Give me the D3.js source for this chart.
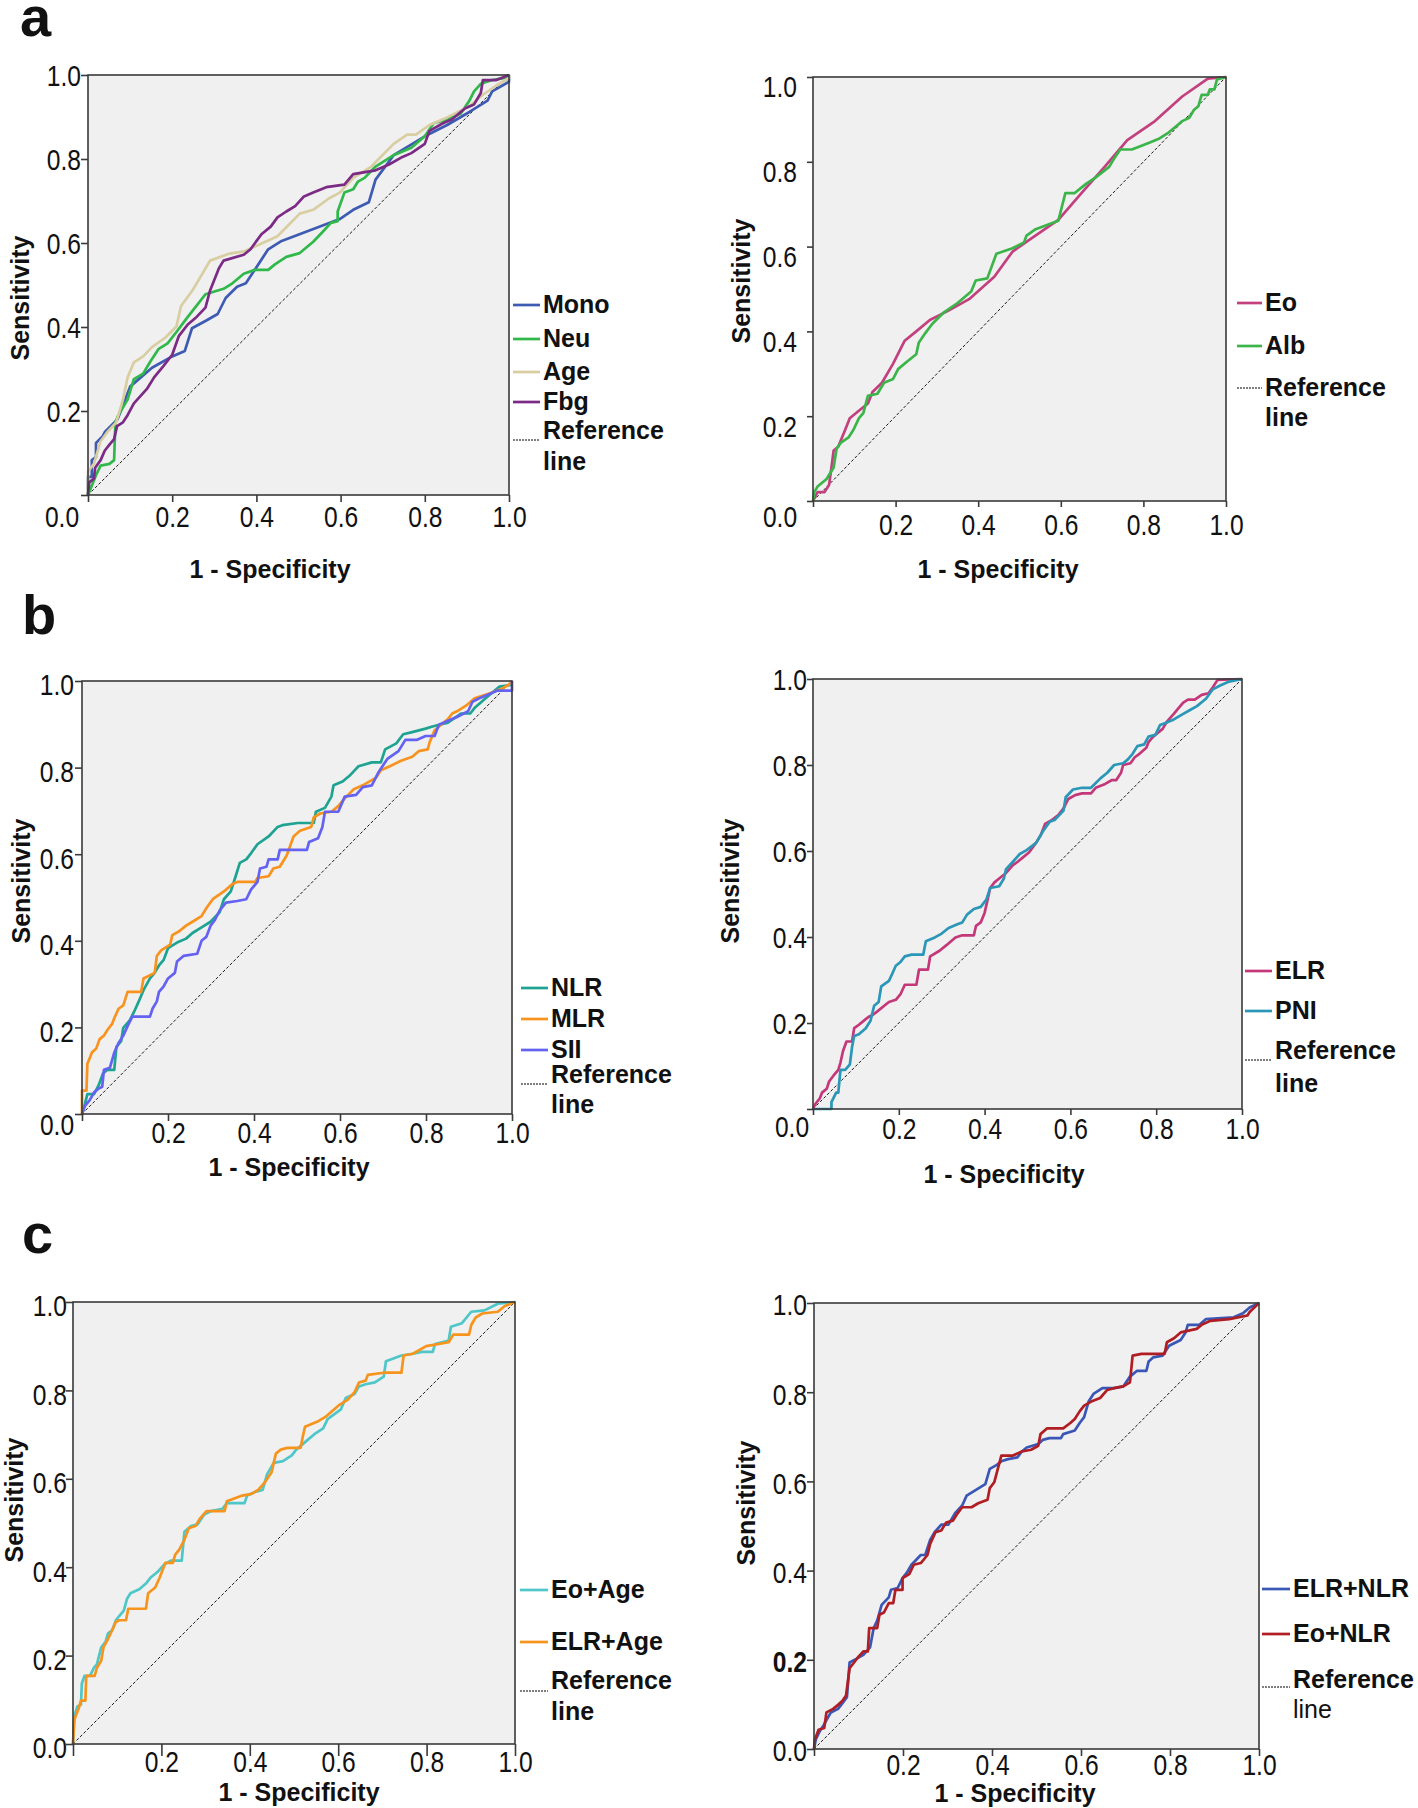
<!DOCTYPE html>
<html>
<head>
<meta charset="utf-8">
<script src="https://cdn.jsdelivr.net/npm/d3@7"></script>
<style>
  body { margin: 0; background: #fff; }
  svg text { fill: #111; }
  .tick-label { font-family: "Liberation Sans", Arial, sans-serif; font-size: 30px; }
  .title { font-family: "Liberation Sans", Arial, sans-serif; font-weight: bold; font-size: 25px; }
  .letter { font-family: "Liberation Sans", Arial, sans-serif; font-weight: bold; font-size: 56px; }
</style>
</head>
<body>
<svg id="chart" width="1418" height="1808"></svg>
<script>
// ROC points: [1 - specificity, sensitivity]
const tickValues = [0, 0.2, 0.4, 0.6, 0.8, 1.0];

// panel a, left
const monoRoc = [[0,0],[0,0.043],[0.009,0.043],[0.009,0.083],[0.019,0.09],[0.019,0.124],[0.025,0.13],[0.035,0.14],[0.04,0.15],[0.07,0.18],[0.1,0.258],[0.152,0.303],[0.2,0.33],[0.23,0.343],[0.247,0.397],[0.28,0.415],[0.308,0.431],[0.327,0.469],[0.354,0.496],[0.375,0.504],[0.428,0.585],[0.46,0.605],[0.598,0.657],[0.63,0.679],[0.667,0.697],[0.683,0.751],[0.726,0.809],[0.8,0.854],[0.853,0.881],[0.906,0.912],[0.949,0.939],[0.96,0.961],[1,0.984],[1,1]];
const neuRoc = [[0,0],[0.0085,0.021],[0.019,0.047],[0.03,0.07],[0.051,0.074],[0.062,0.083],[0.065,0.173],[0.072,0.19],[0.094,0.227],[0.109,0.276],[0.131,0.289],[0.147,0.316],[0.168,0.348],[0.189,0.361],[0.21,0.388],[0.237,0.424],[0.258,0.451],[0.279,0.478],[0.322,0.491],[0.343,0.504],[0.37,0.527],[0.396,0.536],[0.428,0.536],[0.444,0.549],[0.471,0.567],[0.503,0.576],[0.535,0.603],[0.556,0.625],[0.577,0.648],[0.593,0.652],[0.593,0.675],[0.609,0.72],[0.63,0.728],[0.641,0.746],[0.657,0.755],[0.683,0.782],[0.726,0.809],[0.768,0.827],[0.8,0.854],[0.821,0.885],[0.853,0.894],[0.885,0.908],[0.906,0.939],[0.917,0.961],[0.933,0.979],[0.96,0.988],[0.991,0.993],[1,1]];
const ageRoc = [[0,0],[0,0.056],[0.014,0.074],[0.03,0.128],[0.046,0.15],[0.067,0.173],[0.083,0.227],[0.094,0.28],[0.109,0.316],[0.131,0.33],[0.152,0.352],[0.184,0.375],[0.21,0.401],[0.221,0.45],[0.248,0.487],[0.29,0.558],[0.333,0.574],[0.37,0.58],[0.402,0.594],[0.45,0.616],[0.503,0.67],[0.535,0.679],[0.572,0.706],[0.598,0.72],[0.63,0.755],[0.673,0.782],[0.726,0.836],[0.758,0.858],[0.779,0.858],[0.811,0.881],[0.853,0.899],[0.906,0.926],[0.938,0.953],[0.97,0.975],[1,0.993],[1,1]];
const fbgRoc = [[0,0],[0.003,0.03],[0.014,0.039],[0.017,0.065],[0.03,0.083],[0.04,0.106],[0.051,0.12],[0.062,0.133],[0.069,0.164],[0.083,0.173],[0.094,0.19],[0.109,0.218],[0.125,0.236],[0.141,0.254],[0.157,0.28],[0.179,0.307],[0.2,0.334],[0.216,0.379],[0.237,0.406],[0.258,0.424],[0.279,0.446],[0.29,0.487],[0.311,0.54],[0.322,0.558],[0.37,0.572],[0.386,0.585],[0.396,0.599],[0.412,0.621],[0.434,0.639],[0.45,0.661],[0.471,0.675],[0.492,0.688],[0.513,0.711],[0.535,0.72],[0.566,0.733],[0.609,0.739],[0.63,0.764],[0.683,0.773],[0.715,0.787],[0.747,0.805],[0.768,0.814],[0.8,0.836],[0.811,0.867],[0.843,0.885],[0.864,0.894],[0.896,0.921],[0.917,0.93],[0.933,0.957],[0.938,0.988],[0.97,0.988],[1,1]];

// panel a, right
const eoRoc = [[0,0],[0.011,0.021],[0.028,0.021],[0.039,0.038],[0.044,0.074],[0.05,0.119],[0.061,0.128],[0.078,0.168],[0.089,0.195],[0.111,0.213],[0.133,0.23],[0.144,0.257],[0.167,0.279],[0.194,0.324],[0.222,0.378],[0.25,0.4],[0.283,0.427],[0.328,0.449],[0.378,0.476],[0.439,0.529],[0.483,0.588],[0.528,0.619],[0.594,0.663],[0.65,0.726],[0.706,0.788],[0.761,0.851],[0.828,0.896],[0.894,0.954],[0.956,0.996],[1,1]];
const albRoc = [[0,0],[0.003,0.021],[0.011,0.034],[0.022,0.043],[0.033,0.052],[0.041,0.065],[0.05,0.079],[0.057,0.123],[0.067,0.137],[0.086,0.15],[0.098,0.168],[0.111,0.195],[0.122,0.208],[0.133,0.248],[0.156,0.253],[0.172,0.279],[0.194,0.288],[0.206,0.311],[0.228,0.329],[0.25,0.346],[0.256,0.373],[0.272,0.396],[0.289,0.418],[0.317,0.445],[0.35,0.467],[0.383,0.494],[0.394,0.52],[0.422,0.525],[0.444,0.583],[0.483,0.596],[0.511,0.61],[0.517,0.626],[0.539,0.641],[0.594,0.661],[0.611,0.726],[0.633,0.726],[0.661,0.748],[0.683,0.762],[0.717,0.788],[0.728,0.806],[0.744,0.829],[0.772,0.829],[0.794,0.8375],[0.817,0.846],[0.839,0.855],[0.861,0.869],[0.883,0.887],[0.894,0.896],[0.911,0.904],[0.922,0.922],[0.933,0.931],[0.941,0.958],[0.956,0.958],[0.961,0.971],[0.972,0.971],[0.978,0.994],[1,1]];

// panel b, left
const nlrRoc = [[0,0],[0.007,0.024],[0.0125,0.046],[0.028,0.046],[0.039,0.067],[0.049,0.094],[0.059,0.102],[0.075,0.102],[0.08,0.155],[0.091,0.168],[0.096,0.199],[0.111,0.216],[0.122,0.238],[0.132,0.26],[0.143,0.286],[0.158,0.313],[0.169,0.326],[0.179,0.343],[0.19,0.356],[0.2,0.383],[0.221,0.396],[0.242,0.405],[0.257,0.418],[0.278,0.431],[0.299,0.444],[0.32,0.466],[0.33,0.496],[0.346,0.514],[0.356,0.545],[0.367,0.58],[0.382,0.588],[0.393,0.602],[0.408,0.623],[0.434,0.641],[0.455,0.663],[0.466,0.667],[0.502,0.672],[0.539,0.672],[0.544,0.698],[0.565,0.707],[0.58,0.733],[0.585,0.759],[0.606,0.768],[0.622,0.781],[0.643,0.803],[0.674,0.812],[0.695,0.812],[0.705,0.842],[0.731,0.856],[0.747,0.877],[0.768,0.882],[0.799,0.89],[0.815,0.895],[0.851,0.904],[0.882,0.925],[0.903,0.925],[0.914,0.939],[0.934,0.956],[0.955,0.974],[0.971,0.987],[0.997,0.991],[1,1]];
const mlrRoc = [[0,0],[0,0.054],[0.0104,0.054],[0.0125,0.116],[0.018,0.129],[0.023,0.142],[0.033,0.151],[0.041,0.173],[0.051,0.181],[0.059,0.194],[0.07,0.208],[0.075,0.221],[0.085,0.243],[0.096,0.251],[0.106,0.282],[0.1375,0.282],[0.143,0.313],[0.169,0.326],[0.174,0.365],[0.184,0.378],[0.205,0.391],[0.21,0.413],[0.226,0.422],[0.242,0.435],[0.257,0.444],[0.278,0.457],[0.289,0.475],[0.304,0.496],[0.33,0.514],[0.351,0.532],[0.361,0.536],[0.403,0.536],[0.408,0.545],[0.434,0.549],[0.445,0.567],[0.46,0.571],[0.476,0.597],[0.492,0.641],[0.507,0.654],[0.533,0.663],[0.539,0.685],[0.554,0.694],[0.58,0.698],[0.596,0.711],[0.611,0.729],[0.632,0.75],[0.653,0.759],[0.684,0.777],[0.695,0.794],[0.716,0.803],[0.742,0.816],[0.768,0.825],[0.783,0.838],[0.804,0.842],[0.809,0.86],[0.82,0.886],[0.835,0.899],[0.851,0.912],[0.861,0.925],[0.872,0.93],[0.893,0.943],[0.913,0.96],[0.94,0.969],[0.955,0.974],[0.976,0.982],[0.992,0.991],[1,1]];
const siiRoc = [[0,0],[0.007,0.019],[0.018,0.032],[0.028,0.05],[0.039,0.059],[0.047,0.063],[0.051,0.102],[0.065,0.107],[0.075,0.142],[0.085,0.164],[0.096,0.181],[0.106,0.203],[0.117,0.225],[0.158,0.225],[0.164,0.243],[0.174,0.26],[0.179,0.282],[0.19,0.295],[0.2,0.313],[0.216,0.326],[0.221,0.352],[0.236,0.365],[0.268,0.37],[0.278,0.4],[0.289,0.409],[0.299,0.435],[0.309,0.448],[0.32,0.47],[0.335,0.488],[0.361,0.492],[0.382,0.496],[0.393,0.518],[0.408,0.536],[0.414,0.567],[0.429,0.571],[0.434,0.588],[0.455,0.588],[0.46,0.61],[0.523,0.61],[0.528,0.628],[0.549,0.637],[0.559,0.663],[0.565,0.698],[0.596,0.698],[0.611,0.733],[0.6375,0.737],[0.653,0.755],[0.674,0.759],[0.69,0.79],[0.71,0.82],[0.736,0.838],[0.752,0.864],[0.778,0.864],[0.799,0.873],[0.82,0.873],[0.83,0.899],[0.851,0.908],[0.872,0.917],[0.898,0.93],[0.908,0.952],[0.924,0.96],[0.945,0.969],[0.966,0.978],[1,0.978],[1,1]];

// panel b, right
const elrRoc = [[0,0],[0.005,0.011],[0.016,0.025],[0.021,0.038],[0.032,0.047],[0.0375,0.064],[0.048,0.078],[0.059,0.091],[0.064,0.108],[0.07,0.135],[0.078,0.157],[0.091,0.157],[0.096,0.188],[0.107,0.196],[0.118,0.205],[0.129,0.214],[0.139,0.2185],[0.15,0.227],[0.166,0.24],[0.177,0.249],[0.193,0.254],[0.204,0.267],[0.214,0.289],[0.241,0.289],[0.247,0.324],[0.268,0.324],[0.273,0.355],[0.295,0.368],[0.311,0.381],[0.332,0.399],[0.348,0.404],[0.375,0.404],[0.38,0.426],[0.391,0.434],[0.4,0.456],[0.407,0.487],[0.413,0.514],[0.423,0.527],[0.434,0.536],[0.45,0.549],[0.466,0.567],[0.477,0.575],[0.488,0.584],[0.504,0.597],[0.52,0.619],[0.531,0.637],[0.541,0.663],[0.557,0.672],[0.573,0.685],[0.584,0.699],[0.595,0.721],[0.611,0.73],[0.627,0.734],[0.648,0.734],[0.659,0.747],[0.681,0.756],[0.697,0.765],[0.707,0.765],[0.718,0.782],[0.723,0.8],[0.74,0.804],[0.75,0.818],[0.761,0.826],[0.777,0.84],[0.782,0.853],[0.793,0.866],[0.815,0.884],[0.825,0.901],[0.841,0.919],[0.852,0.932],[0.863,0.945],[0.874,0.952],[0.89,0.952],[0.906,0.963],[0.922,0.967],[0.932,0.981],[0.943,0.998],[1,1]];
const pniRoc = [[0,0],[0.043,0],[0.043,0.016],[0.054,0.038],[0.059,0.038],[0.064,0.091],[0.075,0.091],[0.086,0.104],[0.091,0.144],[0.096,0.17],[0.107,0.174],[0.123,0.188],[0.134,0.205],[0.1425,0.24],[0.153,0.249],[0.159,0.285],[0.177,0.298],[0.185,0.315],[0.193,0.333],[0.204,0.342],[0.214,0.355],[0.23,0.359],[0.257,0.359],[0.263,0.39],[0.284,0.399],[0.3,0.408],[0.316,0.421],[0.338,0.43],[0.348,0.434],[0.359,0.452],[0.375,0.465],[0.391,0.47],[0.404,0.487],[0.413,0.514],[0.434,0.518],[0.445,0.536],[0.45,0.558],[0.466,0.575],[0.482,0.593],[0.498,0.602],[0.52,0.619],[0.536,0.646],[0.552,0.668],[0.563,0.672],[0.584,0.694],[0.589,0.725],[0.606,0.743],[0.627,0.747],[0.648,0.747],[0.67,0.769],[0.686,0.782],[0.702,0.8],[0.723,0.804],[0.734,0.813],[0.745,0.826],[0.756,0.844],[0.772,0.848],[0.782,0.866],[0.798,0.87],[0.809,0.893],[0.82,0.897],[0.841,0.906],[0.863,0.919],[0.879,0.928],[0.895,0.937],[0.916,0.954],[0.932,0.976],[0.949,0.985],[0.97,0.994],[1,1]];

// panel c, left
const eoAgeRoc = [[0,0],[0.003,0.063],[0.01,0.085],[0.018,0.089],[0.02,0.137],[0.026,0.154],[0.0385,0.154],[0.047,0.172],[0.054,0.18],[0.064,0.219],[0.074,0.232],[0.079,0.25],[0.089,0.258],[0.097,0.28],[0.104,0.289],[0.115,0.302],[0.122,0.328],[0.13,0.341],[0.15,0.35],[0.165,0.363],[0.175,0.376],[0.191,0.389],[0.206,0.406],[0.221,0.415],[0.246,0.415],[0.252,0.48],[0.267,0.493],[0.282,0.497],[0.297,0.519],[0.312,0.527],[0.338,0.532],[0.348,0.545],[0.388,0.545],[0.394,0.562],[0.414,0.571],[0.429,0.575],[0.439,0.61],[0.454,0.636],[0.475,0.64],[0.495,0.653],[0.505,0.666],[0.525,0.683],[0.546,0.701],[0.566,0.714],[0.576,0.735],[0.606,0.757],[0.617,0.783],[0.637,0.792],[0.647,0.809],[0.662,0.814],[0.683,0.818],[0.703,0.831],[0.708,0.866],[0.743,0.879],[0.769,0.883],[0.789,0.887],[0.814,0.887],[0.819,0.905],[0.85,0.913],[0.855,0.944],[0.88,0.952],[0.901,0.978],[0.931,0.981],[0.961,0.996],[1,1]];
const elrAgeRoc = [[0,0],[0.003,0.055],[0.013,0.081],[0.018,0.098],[0.028,0.098],[0.03,0.154],[0.049,0.154],[0.054,0.172],[0.064,0.189],[0.069,0.219],[0.079,0.237],[0.087,0.254],[0.097,0.276],[0.104,0.28],[0.12,0.28],[0.125,0.306],[0.165,0.306],[0.17,0.341],[0.186,0.354],[0.196,0.376],[0.209,0.41],[0.226,0.41],[0.231,0.428],[0.241,0.441],[0.252,0.462],[0.262,0.488],[0.277,0.493],[0.287,0.51],[0.302,0.527],[0.343,0.527],[0.348,0.549],[0.383,0.562],[0.404,0.566],[0.419,0.575],[0.434,0.592],[0.449,0.614],[0.459,0.657],[0.47,0.666],[0.485,0.67],[0.515,0.67],[0.52,0.696],[0.525,0.718],[0.556,0.731],[0.571,0.74],[0.586,0.753],[0.601,0.766],[0.622,0.779],[0.637,0.796],[0.647,0.818],[0.662,0.822],[0.667,0.835],[0.703,0.84],[0.743,0.84],[0.748,0.879],[0.769,0.883],[0.799,0.9],[0.85,0.909],[0.86,0.926],[0.896,0.926],[0.901,0.948],[0.911,0.965],[0.926,0.974],[0.961,0.978],[0.977,0.991],[1,1]];

// panel c, right
const elrNlrRoc = [[0,0],[0.004,0.0215],[0.0124,0.039],[0.021,0.052],[0.028,0.065],[0.038,0.082],[0.054,0.09],[0.064,0.103],[0.074,0.116],[0.08,0.194],[0.095,0.202],[0.111,0.211],[0.126,0.228],[0.134,0.271],[0.142,0.288],[0.152,0.323],[0.168,0.34],[0.173,0.357],[0.188,0.361],[0.199,0.383],[0.209,0.396],[0.219,0.413],[0.24,0.435],[0.25,0.435],[0.261,0.469],[0.271,0.486],[0.286,0.503],[0.302,0.503],[0.317,0.529],[0.333,0.546],[0.343,0.568],[0.364,0.581],[0.385,0.594],[0.395,0.628],[0.411,0.637],[0.421,0.645],[0.436,0.65],[0.457,0.654],[0.467,0.667],[0.478,0.676],[0.504,0.684],[0.514,0.693],[0.529,0.697],[0.555,0.697],[0.56,0.706],[0.586,0.714],[0.597,0.731],[0.607,0.744],[0.617,0.779],[0.628,0.796],[0.648,0.809],[0.674,0.809],[0.695,0.813],[0.71,0.835],[0.726,0.848],[0.747,0.848],[0.752,0.869],[0.762,0.878],[0.783,0.882],[0.798,0.904],[0.824,0.917],[0.835,0.934],[0.84,0.951],[0.866,0.951],[0.881,0.964],[0.943,0.968],[0.964,0.977],[0.979,0.99],[1,1]];
const eoNlrRoc = [[0,0],[0.002,0.0215],[0.0103,0.043],[0.023,0.047],[0.028,0.082],[0.043,0.09],[0.054,0.099],[0.064,0.108],[0.072,0.12],[0.08,0.181],[0.09,0.194],[0.1,0.207],[0.111,0.219],[0.121,0.219],[0.124,0.271],[0.142,0.271],[0.147,0.301],[0.157,0.306],[0.168,0.327],[0.178,0.327],[0.183,0.357],[0.199,0.357],[0.199,0.383],[0.214,0.392],[0.224,0.413],[0.24,0.417],[0.255,0.435],[0.261,0.46],[0.273,0.486],[0.286,0.49],[0.297,0.508],[0.312,0.512],[0.323,0.529],[0.333,0.542],[0.354,0.542],[0.369,0.551],[0.39,0.559],[0.395,0.585],[0.405,0.598],[0.421,0.658],[0.447,0.658],[0.467,0.667],[0.488,0.671],[0.504,0.68],[0.509,0.706],[0.524,0.719],[0.56,0.719],[0.576,0.731],[0.586,0.74],[0.597,0.757],[0.607,0.77],[0.623,0.779],[0.643,0.787],[0.659,0.805],[0.674,0.809],[0.695,0.813],[0.71,0.822],[0.716,0.882],[0.736,0.886],[0.788,0.886],[0.793,0.912],[0.809,0.921],[0.824,0.934],[0.86,0.942],[0.871,0.951],[0.891,0.96],[0.933,0.964],[0.974,0.972],[0.979,0.98],[1,1]];

// series names per panel (legend order)
const aLeftNames = ["Mono", "Neu", "Age", "Fbg"];
const aRightNames = ["Eo", "Alb"];
const bLeftNames = ["NLR", "MLR", "SII"];
const bRightNames = ["ELR", "PNI"];
const cLeftNames = ["Eo+Age", "ELR+Age"];
const cRightNames = ["ELR+NLR", "Eo+NLR"];

// line colours
const colors = {
  "Mono": "#3e5bb3", "Neu": "#30b84a", "Age": "#d8cea2", "Fbg": "#7b2a85",
  "Eo": "#c2407e", "Alb": "#3bb54a",
  "NLR": "#1ea392", "MLR": "#f7931e", "SII": "#6462f0",
  "ELR": "#c4387a", "PNI": "#2a96b8",
  "Eo+Age": "#4fc6c8", "ELR+Age": "#f7941d",
  "ELR+NLR": "#3b57b5", "Eo+NLR": "#b01e23"
};

const svg = d3.select("#chart");
const fmt = d3.format(".1f");
const narrow = 0.82; // the tick labels use a narrow face

// layout of each panel (plot box and label placements)
const panels = [
  { names: aLeftNames, values: [monoRoc, neuRoc, ageRoc, fbgRoc],
    box: [88, 75, 509, 495], xTick: 7, yTick: 7, xLabY: 32, yLabX: 7, yLabDy: 0,
    zero: { x: -26, y: 32 }, xTitle: [270, 578], yTitle: [29, 298],
    legend: { lx: [513, 540], tx: 543, rows: [313, 347, 380, 410], ref: 439, refLine: 440, line2: 470 } },
  { names: aRightNames, values: [eoRoc, albRoc],
    box: [813, 77, 1226, 501], xTick: 6, yTick: 6, xLabY: 34, yLabX: 16, yLabDy: 9,
    zero: { x: -33, y: 26 }, xTitle: [998, 578], yTitle: [750, 281],
    legend: { lx: [1237, 1262], tx: 1265, rows: [311, 354], ref: 396, refLine: 388, line2: 426 } },
  { names: bLeftNames, values: [nlrRoc, mlrRoc, siiRoc],
    box: [82, 681, 512, 1114], xTick: 7, yTick: 7, xLabY: 29, yLabX: 8, yLabDy: 3,
    zero: { x: -25, y: 21 }, xTitle: [289, 1176], yTitle: [30, 881],
    legend: { lx: [521, 548], tx: 551, rows: [996, 1027, 1058], ref: 1083, refLine: 1084, line2: 1113 } },
  { names: bRightNames, values: [elrRoc, pniRoc],
    box: [813, 679, 1242, 1109], xTick: 6, yTick: 6, xLabY: 30, yLabX: 6, yLabDy: 0,
    zero: { x: -21, y: 28 }, xTitle: [1004, 1183], yTitle: [739, 881],
    legend: { lx: [1245, 1272], tx: 1275, rows: [979, 1019], ref: 1059, refLine: 1060, line2: 1092 } },
  { names: cLeftNames, values: [eoAgeRoc, elrAgeRoc],
    box: [73, 1302, 515, 1744], xTick: 12, yTick: 7, xLabY: 28, yLabX: 6, yLabDy: 3,
    zero: null, xTitle: [299, 1801], yTitle: [23, 1500],
    legend: { lx: [520, 548], tx: 551, rows: [1598, 1650], ref: 1689, refLine: 1691, line2: 1720 } },
  { names: cRightNames, values: [elrNlrRoc, eoNlrRoc],
    box: [814, 1303, 1259, 1749], xTick: 7, yTick: 7, xLabY: 26, yLabX: 7, yLabDy: 1,
    zero: null, boldY: 0.2, lightLine2: true, xTitle: [1015, 1802], yTitle: [755, 1503],
    legend: { lx: [1262, 1290], tx: 1293, rows: [1597, 1642], ref: 1688, refLine: 1687, line2: 1718 } }
];

const letters = [["a", 20, 36], ["b", 22, 634], ["c", 22, 1253]];
letters.forEach(([t, x, y]) => {
  svg.append("text").attr("class", "letter").attr("x", x).attr("y", y).text(t);
});

// squeeze a tick label to the narrow width
function squeeze(sel) {
  sel.each(function () {
    const w = this.getComputedTextLength();
    if (w > 0) {
      d3.select(this)
        .attr("textLength", w * narrow)
        .attr("lengthAdjust", "spacingAndGlyphs");
    }
  });
}

function drawPanel(p) {
  const [x0, y0, x1, y1] = p.box;
  const x = d3.scaleLinear().domain([0, 1]).range([x0, x1]);
  const y = d3.scaleLinear().domain([0, 1]).range([y1, y0]);
  const g = svg.append("g");

  g.append("rect")
    .attr("x", x0).attr("y", y0)
    .attr("width", x1 - x0).attr("height", y1 - y0)
    .attr("fill", "#f0f0f0");

  // diagonal reference line
  g.append("line")
    .attr("x1", x(0)).attr("y1", y(0))
    .attr("x2", x(1)).attr("y2", y(1))
    .attr("stroke", "#000")
    .attr("stroke-width", 0.9)
    .attr("stroke-dasharray", "3,2");

  const line = d3.line().x(d => x(d[0])).y(d => y(d[1]));
  p.names.forEach((name, i) => {
    g.append("path")
      .datum(p.values[i])
      .attr("d", line)
      .attr("fill", "none")
      .attr("stroke", colors[name])
      .attr("stroke-width", 2.7)
      .attr("stroke-linejoin", "round");
  });

  g.append("rect")
    .attr("x", x0).attr("y", y0)
    .attr("width", x1 - x0).attr("height", y1 - y0)
    .attr("fill", "none")
    .attr("stroke", "#3a3a3a")
    .attr("stroke-width", 1.6);

  // x axis
  const gx = g.append("g")
    .attr("transform", `translate(0,${y1})`)
    .call(d3.axisBottom(x).tickValues(tickValues).tickSize(p.xTick)
      .tickFormat(d => d === 0 ? "" : fmt(d)));
  gx.select(".domain").remove();
  gx.selectAll(".tick line").attr("stroke", "#3a3a3a").attr("stroke-width", 1.6);
  gx.selectAll(".tick text")
    .attr("class", "tick-label")
    .attr("y", p.xLabY)
    .attr("dy", null)
    .call(squeeze);

  // y axis
  const gy = g.append("g")
    .attr("transform", `translate(${x0},0)`)
    .call(d3.axisLeft(y).tickValues(tickValues).tickSize(p.yTick)
      .tickFormat(d => (d === 0 && p.zero) ? "" : fmt(d)));
  gy.select(".domain").remove();
  gy.selectAll(".tick line").attr("stroke", "#3a3a3a").attr("stroke-width", 1.6);
  gy.selectAll(".tick text")
    .attr("class", "tick-label")
    .attr("x", -p.yLabX)
    .attr("y", p.yLabDy)
    .attr("dy", "0.36em")
    .style("font-weight", d => d === p.boldY ? "bold" : null)
    .call(squeeze);

  // single "0.0" sitting at the corner
  if (p.zero) {
    g.append("text")
      .attr("class", "tick-label")
      .attr("text-anchor", "middle")
      .attr("x", x0 + p.zero.x)
      .attr("y", y1 + p.zero.y)
      .text(fmt(0))
      .call(squeeze);
  }

  // axis titles
  g.append("text")
    .attr("class", "title")
    .attr("text-anchor", "middle")
    .attr("x", p.xTitle[0]).attr("y", p.xTitle[1])
    .text("1 - Specificity");
  g.append("text")
    .attr("class", "title")
    .attr("text-anchor", "middle")
    .attr("transform", `translate(${p.yTitle[0]},${p.yTitle[1]}) rotate(-90)`)
    .text("Sensitivity");

  // legend
  const L = p.legend;
  p.names.forEach((name, i) => {
    g.append("line")
      .attr("x1", L.lx[0]).attr("x2", L.lx[1])
      .attr("y1", L.rows[i] - 8).attr("y2", L.rows[i] - 8)
      .attr("stroke", colors[name])
      .attr("stroke-width", 2.7);
    g.append("text")
      .attr("class", "title")
      .attr("x", L.tx).attr("y", L.rows[i])
      .text(name);
  });
  g.append("line")
    .attr("x1", L.lx[0]).attr("x2", L.lx[1])
    .attr("y1", L.refLine).attr("y2", L.refLine)
    .attr("stroke", "#000")
    .attr("stroke-width", 1)
    .attr("stroke-dasharray", "2,1");
  g.append("text")
    .attr("class", "title")
    .attr("x", L.tx).attr("y", L.ref)
    .text("Reference");
  g.append("text")
    .attr("class", "title")
    .attr("x", L.tx).attr("y", L.line2)
    .style("font-weight", p.lightLine2 ? "normal" : null)
    .text("line");
}

panels.forEach(drawPanel);
</script>
</body>
</html>
